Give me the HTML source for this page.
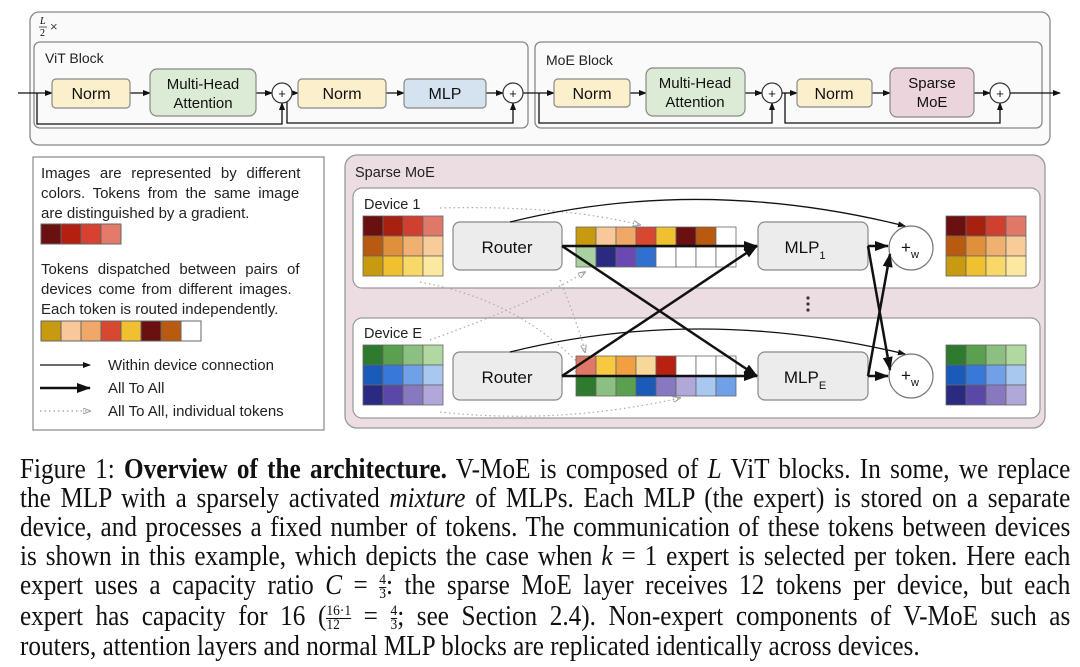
<!DOCTYPE html>
<html><head><meta charset="utf-8"><style>
body{margin:0;width:1080px;height:667px;background:#fff;position:relative;overflow:hidden;font-family:"Liberation Sans",sans-serif}
svg{position:absolute;left:0;top:0}
.cap{position:absolute;left:20px;width:1167px;transform:scaleX(0.9);transform-origin:0 0;font-family:"Liberation Serif",serif;font-size:28px;color:#111;text-align:justify;text-align-last:justify;white-space:nowrap;line-height:29px}
.fr{display:inline-block;vertical-align:middle;text-align:center;font-size:15px;line-height:13px}
.fr span{display:block}
.fr span:first-child{border-bottom:1px solid #111}
</style></head><body>
<svg width="1080" height="440" viewBox="0 0 1080 440" font-family="Liberation Sans, sans-serif">
<defs>
<marker id="a" markerWidth="8" markerHeight="6" refX="7" refY="3" orient="auto" markerUnits="userSpaceOnUse"><path d="M0,0L8,3L0,6z" fill="#111"/></marker>
<marker id="b" markerWidth="14" markerHeight="10" refX="13" refY="5" orient="auto" markerUnits="userSpaceOnUse"><path d="M0,0L14,5L0,10z" fill="#111"/></marker>
<marker id="d" markerWidth="8" markerHeight="6" refX="7" refY="3" orient="auto" markerUnits="userSpaceOnUse"><path d="M0,0L8,3L0,6z" fill="none" stroke="#999"/></marker>
</defs>
<rect x="30" y="12" width="1020" height="133" rx="9" fill="#fafafa" stroke="#888" stroke-width="1.3"/>
<text x="40" y="24" font-size="10" font-style="italic" font-family="Liberation Serif">L</text>
<line x1="39" y1="27" x2="47" y2="27" stroke="#333" stroke-width="0.8"/>
<text x="40" y="36" font-size="10" font-family="Liberation Serif">2</text>
<text x="50" y="31" font-size="13" fill="#444">×</text>
<rect x="34" y="42" width="494" height="86" rx="6" fill="#fafafa" stroke="#888" stroke-width="1.3"/>
<rect x="535" y="42" width="507" height="86" rx="6" fill="#fafafa" stroke="#888" stroke-width="1.3"/>
<text x="45" y="63" font-size="14" fill="#222">ViT Block</text>
<text x="546" y="65" font-size="14" fill="#222">MoE Block</text>
<g stroke="#111" stroke-width="1.3" fill="none">
<line x1="18" y1="93" x2="52" y2="93" marker-end="url(#a)"/>
<line x1="130" y1="93" x2="150" y2="93" marker-end="url(#a)"/>
<line x1="256" y1="93" x2="272" y2="93" marker-end="url(#a)"/>
<line x1="292" y1="93" x2="298" y2="93" marker-end="url(#a)"/>
<line x1="386" y1="93" x2="404" y2="93" marker-end="url(#a)"/>
<line x1="486" y1="93" x2="503" y2="93" marker-end="url(#a)"/>
<line x1="523" y1="93" x2="554" y2="93" marker-end="url(#a)"/>
<line x1="630" y1="93" x2="646" y2="93" marker-end="url(#a)"/>
<line x1="745" y1="93" x2="762" y2="93" marker-end="url(#a)"/>
<line x1="782" y1="93" x2="797" y2="93" marker-end="url(#a)"/>
<line x1="872" y1="93" x2="890" y2="93" marker-end="url(#a)"/>
<line x1="974" y1="93" x2="990" y2="93" marker-end="url(#a)"/>
<line x1="1010" y1="93" x2="1060" y2="93" marker-end="url(#a)"/>
<polyline points="37,93 37,124 282,124 282,103" marker-end="url(#a)"/>
<polyline points="287,93 287,123 513,123 513,103" marker-end="url(#a)"/>
<polyline points="539,93 539,123 772,123 772,103" marker-end="url(#a)"/>
<polyline points="785,93 785,123 1000,123 1000,103" marker-end="url(#a)"/>
</g>
<g stroke="#888" stroke-width="1.2" font-size="16" text-anchor="middle" fill="#111">
<rect x="52" y="79" width="78" height="29" rx="4" fill="#fcf0cc"/><text x="91" y="99" stroke="none">Norm</text>
<rect x="150" y="69" width="106" height="47" rx="7" fill="#dcebd6"/><text x="203" y="89" stroke="none" font-size="15">Multi-Head</text><text x="203" y="108" stroke="none" font-size="15">Attention</text>
<rect x="298" y="79" width="88" height="29" rx="4" fill="#fcf0cc"/><text x="342" y="99" stroke="none">Norm</text>
<rect x="404" y="79" width="82" height="29" rx="4" fill="#d4e3ef"/><text x="445" y="99" stroke="none">MLP</text>
<rect x="554" y="79" width="76" height="28" rx="4" fill="#fcf0cc"/><text x="592" y="99" stroke="none">Norm</text>
<rect x="646" y="68" width="99" height="48" rx="7" fill="#dcebd6"/><text x="695" y="88" stroke="none" font-size="15">Multi-Head</text><text x="695" y="107" stroke="none" font-size="15">Attention</text>
<rect x="797" y="79" width="75" height="28" rx="4" fill="#fcf0cc"/><text x="834" y="99" stroke="none">Norm</text>
<rect x="890" y="68" width="84" height="49" rx="7" fill="#ecd4dc"/><text x="932" y="88" stroke="none" font-size="15">Sparse</text><text x="932" y="107" stroke="none" font-size="15">MoE</text>
</g>
<g fill="#fff" stroke="#333" stroke-width="1.2">
<circle cx="282" cy="93" r="10"/><circle cx="513" cy="93" r="10"/><circle cx="772" cy="93" r="10"/><circle cx="1000" cy="93" r="10"/>
</g>
<g font-size="13" text-anchor="middle" fill="#111"><text x="282" y="98">+</text><text x="513" y="98">+</text><text x="772" y="98">+</text><text x="1000" y="98">+</text></g>

<rect x="33" y="157" width="291" height="273" fill="#fff" stroke="#888" stroke-width="1.2"/>
<g font-size="15" fill="#222">
<text x="41" y="178" word-spacing="5.5">Images are represented by different</text>
<text x="41" y="198" word-spacing="3.5">colors. Tokens from the same image</text>
<text x="41" y="218">are distinguished by a gradient.</text>
<text x="41" y="274" word-spacing="5">Tokens dispatched between pairs of</text>
<text x="41" y="294" word-spacing="2.5">devices come from different images.</text>
<text x="41" y="314">Each token is routed independently.</text>
<text x="108" y="370">Within device connection</text>
<text x="108" y="393">All To All</text>
<text x="108" y="416">All To All, individual tokens</text>
</g>
<g stroke="#666" stroke-width="1">
<rect x="41" y="224" width="20" height="20" fill="#6b1010"/><rect x="61" y="224" width="20" height="20" fill="#b42010"/><rect x="81" y="224" width="20" height="20" fill="#d84030"/><rect x="101" y="224" width="20" height="20" fill="#e47a6a"/>
<rect x="41" y="321" width="20" height="20" fill="#c89a10"/><rect x="61" y="321" width="20" height="20" fill="#f8c898"/><rect x="81" y="321" width="20" height="20" fill="#f0a868"/><rect x="101" y="321" width="20" height="20" fill="#d84830"/><rect x="121" y="321" width="20" height="20" fill="#f0c030"/><rect x="141" y="321" width="20" height="20" fill="#6b1010"/><rect x="161" y="321" width="20" height="20" fill="#b85a10"/><rect x="181" y="321" width="20" height="20" fill="#fff"/>
</g>
<line x1="40" y1="365" x2="90" y2="365" stroke="#111" stroke-width="1.2" marker-end="url(#a)"/>
<line x1="40" y1="388" x2="90" y2="388" stroke="#111" stroke-width="2.5" marker-end="url(#b)"/>
<line x1="40" y1="411" x2="90" y2="411" stroke="#999" stroke-width="1.2" stroke-dasharray="1.5,3" marker-end="url(#d)"/>

<rect x="345" y="155" width="700" height="273" rx="12" fill="#ecdde2" stroke="#999" stroke-width="1.3"/>
<text x="355" y="177" font-size="14.5" fill="#222">Sparse MoE</text>
<rect x="353" y="188" width="687" height="100" rx="9" fill="#fff" stroke="#999" stroke-width="1.2"/>
<rect x="353" y="318" width="687" height="100" rx="9" fill="#fff" stroke="#999" stroke-width="1.2"/>
<text x="364" y="209" font-size="14.5" fill="#222">Device 1</text>
<text x="364" y="338" font-size="14.5" fill="#222">Device E</text>
<g fill="#333"><circle cx="808" cy="298" r="1.6"/><circle cx="808" cy="304" r="1.6"/><circle cx="808" cy="310" r="1.6"/></g>

<g stroke="#aaa" stroke-width="1.2" stroke-dasharray="1.5,3" fill="none">
<path d="M440 208 Q560 205 640 225" marker-end="url(#d)"/>
<path d="M420 282 Q520 300 585 370" />
<path d="M430 340 Q540 300 585 272" marker-end="url(#d)"/>
<path d="M560 280 Q580 330 585 352" marker-end="url(#d)"/>
<path d="M440 412 Q560 425 680 398" marker-end="url(#d)"/>
</g>

<g stroke="#666" stroke-width="0.8">
<rect x="363" y="216" width="20" height="20" fill="#6b1010"/><rect x="383" y="216" width="20" height="20" fill="#a8200f"/><rect x="403" y="216" width="20" height="20" fill="#d04030"/><rect x="423" y="216" width="20" height="20" fill="#e07868"/>
<rect x="363" y="236" width="20" height="20" fill="#b85a10"/><rect x="383" y="236" width="20" height="20" fill="#e0903a"/><rect x="403" y="236" width="20" height="20" fill="#f0b070"/><rect x="423" y="236" width="20" height="20" fill="#f8cc98"/>
<rect x="363" y="256" width="20" height="20" fill="#c89a10"/><rect x="383" y="256" width="20" height="20" fill="#f0c030"/><rect x="403" y="256" width="20" height="20" fill="#f8d868"/><rect x="423" y="256" width="20" height="20" fill="#fce8a0"/>
<rect x="946" y="216" width="20" height="20" fill="#6b1010"/><rect x="966" y="216" width="20" height="20" fill="#a8200f"/><rect x="986" y="216" width="20" height="20" fill="#d04030"/><rect x="1006" y="216" width="20" height="20" fill="#e07868"/>
<rect x="946" y="236" width="20" height="20" fill="#b85a10"/><rect x="966" y="236" width="20" height="20" fill="#e0903a"/><rect x="986" y="236" width="20" height="20" fill="#f0b070"/><rect x="1006" y="236" width="20" height="20" fill="#f8cc98"/>
<rect x="946" y="256" width="20" height="20" fill="#c89a10"/><rect x="966" y="256" width="20" height="20" fill="#f0c030"/><rect x="986" y="256" width="20" height="20" fill="#f8d868"/><rect x="1006" y="256" width="20" height="20" fill="#fce8a0"/>
<rect x="363" y="345" width="20" height="20" fill="#2e7a2e"/><rect x="383" y="345" width="20" height="20" fill="#5aa050"/><rect x="403" y="345" width="20" height="20" fill="#8cc080"/><rect x="423" y="345" width="20" height="20" fill="#b0d8a0"/>
<rect x="363" y="365" width="20" height="20" fill="#1a5ab8"/><rect x="383" y="365" width="20" height="20" fill="#3878d8"/><rect x="403" y="365" width="20" height="20" fill="#70a0e8"/><rect x="423" y="365" width="20" height="20" fill="#a8c8f0"/>
<rect x="363" y="385" width="20" height="20" fill="#2a2a80"/><rect x="383" y="385" width="20" height="20" fill="#5a48a8"/><rect x="403" y="385" width="20" height="20" fill="#8878c0"/><rect x="423" y="385" width="20" height="20" fill="#b0a8d8"/>
<rect x="946" y="345" width="20" height="20" fill="#2e7a2e"/><rect x="966" y="345" width="20" height="20" fill="#5aa050"/><rect x="986" y="345" width="20" height="20" fill="#8cc080"/><rect x="1006" y="345" width="20" height="20" fill="#b0d8a0"/>
<rect x="946" y="365" width="20" height="20" fill="#1a5ab8"/><rect x="966" y="365" width="20" height="20" fill="#3878d8"/><rect x="986" y="365" width="20" height="20" fill="#70a0e8"/><rect x="1006" y="365" width="20" height="20" fill="#a8c8f0"/>
<rect x="946" y="385" width="20" height="20" fill="#2a2a80"/><rect x="966" y="385" width="20" height="20" fill="#5a48a8"/><rect x="986" y="385" width="20" height="20" fill="#8878c0"/><rect x="1006" y="385" width="20" height="20" fill="#b0a8d8"/>
<rect x="576" y="227" width="20" height="20" fill="#c89a10"/><rect x="596" y="227" width="20" height="20" fill="#f8c898"/><rect x="616" y="227" width="20" height="20" fill="#f0a868"/><rect x="636" y="227" width="20" height="20" fill="#d84830"/><rect x="656" y="227" width="20" height="20" fill="#f0c030"/><rect x="676" y="227" width="20" height="20" fill="#6b1010"/><rect x="696" y="227" width="20" height="20" fill="#b85a10"/><rect x="716" y="227" width="20" height="20" fill="#fff"/>
<rect x="576" y="247" width="20" height="20" fill="#a8d0a0"/><rect x="596" y="247" width="20" height="20" fill="#2a2a80"/><rect x="616" y="247" width="20" height="20" fill="#6a4ab0"/><rect x="636" y="247" width="20" height="20" fill="#3070d0"/><rect x="656" y="247" width="20" height="20" fill="#fff"/><rect x="676" y="247" width="20" height="20" fill="#fff"/><rect x="696" y="247" width="20" height="20" fill="#fff"/><rect x="716" y="247" width="20" height="20" fill="#fff"/>
<rect x="576" y="356" width="20" height="20" fill="#e07868"/><rect x="596" y="356" width="20" height="20" fill="#f8c840"/><rect x="616" y="356" width="20" height="20" fill="#f0a040"/><rect x="636" y="356" width="20" height="20" fill="#f8d898"/><rect x="656" y="356" width="20" height="20" fill="#b82010"/><rect x="676" y="356" width="20" height="20" fill="#fff"/><rect x="696" y="356" width="20" height="20" fill="#fff"/><rect x="716" y="356" width="20" height="20" fill="#fff"/>
<rect x="576" y="376" width="20" height="20" fill="#2e7a2e"/><rect x="596" y="376" width="20" height="20" fill="#8cc080"/><rect x="616" y="376" width="20" height="20" fill="#5aa050"/><rect x="636" y="376" width="20" height="20" fill="#1a5ab8"/><rect x="656" y="376" width="20" height="20" fill="#8878c0"/><rect x="676" y="376" width="20" height="20" fill="#b0a8d8"/><rect x="696" y="376" width="20" height="20" fill="#a8c8f0"/><rect x="716" y="376" width="20" height="20" fill="#70a0e8"/>
</g>

<g stroke="#888" stroke-width="1.2" fill="#ececec" font-size="17" text-anchor="middle">
<rect x="453" y="222" width="109" height="48" rx="7"/><text x="507" y="253" fill="#111" stroke="none">Router</text>
<rect x="453" y="352" width="109" height="48" rx="7"/><text x="507" y="383" fill="#111" stroke="none">Router</text>
<rect x="758" y="222" width="110" height="48" rx="7"/><text x="805" y="253" fill="#111" stroke="none">MLP<tspan font-size="11" dy="6">1</tspan></text>
<rect x="758" y="352" width="110" height="48" rx="7"/><text x="805" y="383" fill="#111" stroke="none">MLP<tspan font-size="11" dy="6">E</tspan></text>
</g>
<g fill="#fff" stroke="#777" stroke-width="1.2"><circle cx="911" cy="248" r="22"/><circle cx="911" cy="376" r="22"/></g>
<g font-size="17" fill="#111"><text x="901" y="253">+<tspan font-size="11" dy="5">w</tspan></text><text x="901" y="381">+<tspan font-size="11" dy="5">w</tspan></text></g>

<g stroke="#111" fill="none">
<path d="M510 222 Q700 175 905 226" stroke-width="1.3" marker-end="url(#a)"/>
<path d="M510 352 Q700 305 905 354" stroke-width="1.3" marker-end="url(#a)"/>
<g stroke-width="2.5">
<line x1="562" y1="246" x2="757" y2="246" marker-end="url(#b)"/>
<line x1="562" y1="376" x2="757" y2="376" marker-end="url(#b)"/>
<line x1="562" y1="246" x2="757" y2="376" marker-end="url(#b)"/>
<line x1="562" y1="376" x2="757" y2="246" marker-end="url(#b)"/>
<line x1="868" y1="246" x2="888" y2="246" marker-end="url(#b)"/>
<line x1="868" y1="376" x2="888" y2="376" marker-end="url(#b)"/>
<line x1="868" y1="246" x2="890" y2="370" marker-end="url(#b)"/>
<line x1="868" y1="376" x2="890" y2="254" marker-end="url(#b)"/>
</g>
</g>
</svg>

<div class="cap" style="top:455px">Figure 1: <b>Overview of the architecture.</b> V-MoE is composed of <i>L</i> ViT blocks. In some, we replace</div>
<div class="cap" style="top:484px">the MLP with a sparsely activated <i>mixture</i> of MLPs. Each MLP (the expert) is stored on a separate</div>
<div class="cap" style="top:513px">device, and processes a fixed number of tokens. The communication of these tokens between devices</div>
<div class="cap" style="top:542px">is shown in this example, which depicts the case when <i>k</i> = 1 expert is selected per token. Here each</div>
<div class="cap" style="top:571px">expert uses a capacity ratio <i>C</i> = <span class="fr"><span>4</span><span>3</span></span>: the sparse MoE layer receives 12 tokens per device, but each</div>
<div class="cap" style="top:602px">expert has capacity for 16 (<span class="fr"><span>16·1</span><span>12</span></span> = <span class="fr"><span>4</span><span>3</span></span>; see Section 2.4). Non-expert components of V-MoE such as</div>
<div class="cap" style="top:632px;width:auto;text-align-last:auto">routers, attention layers and normal MLP blocks are replicated identically across devices.</div>
</body></html>
